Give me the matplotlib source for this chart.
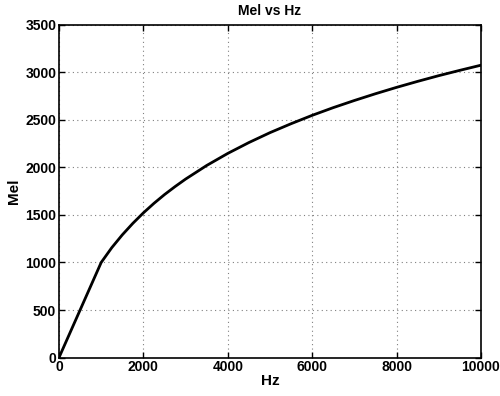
import matplotlib
matplotlib.use("Agg")
import matplotlib.pyplot as plt

# values
hz = [0, 1000, 1250, 1500, 1750, 2000, 2250, 2500, 2750, 3000, 3500, 4000, 4500, 5000,
      5500, 6000, 6500, 7000, 7500, 8000, 8500, 9000, 9500, 10000]
mel = [0, 1000, 1155, 1290, 1411, 1521, 1621, 1713, 1797, 1876, 2019, 2146, 2260, 2364,
       2458, 2546, 2627, 2702, 2773, 2840, 2903, 2963, 3019, 3073]

x_ticks = [0, 2000, 4000, 6000, 8000, 10000]
y_ticks = [0, 500, 1000, 1500, 2000, 2500, 3000, 3500]

plt.rcParams["font.family"] = ["Liberation Sans", "DejaVu Sans"]
plt.rcParams["font.weight"] = "bold"
plt.rcParams["font.size"] = 10

fig = plt.figure(figsize=(5, 3.96), dpi=100)
ax = fig.add_axes([0.118, 0.097, 0.844, 0.841])

ax.plot(hz, mel, color="black", linewidth=2)

ax.set_xlim(0, 10000)
ax.set_ylim(0, 3500)
ax.set_xticks(x_ticks)
ax.set_yticks(y_ticks)
ax.tick_params(direction="in", top=True, right=True, length=4, width=1, pad=2)
ax.grid(True, linestyle=(0, (1, 3)), color="#808080", linewidth=0.8)
for s in ax.spines.values():
    s.set_linewidth(1.2)

ax.set_title("Mel vs Hz", fontweight="bold", fontsize=10, pad=7)
ax.set_xlabel("Hz", fontweight="bold", fontsize=11, labelpad=0)
ax.set_ylabel("Mel", fontweight="bold", fontsize=11, labelpad=3)

fig.savefig("out.png", dpi=100)
